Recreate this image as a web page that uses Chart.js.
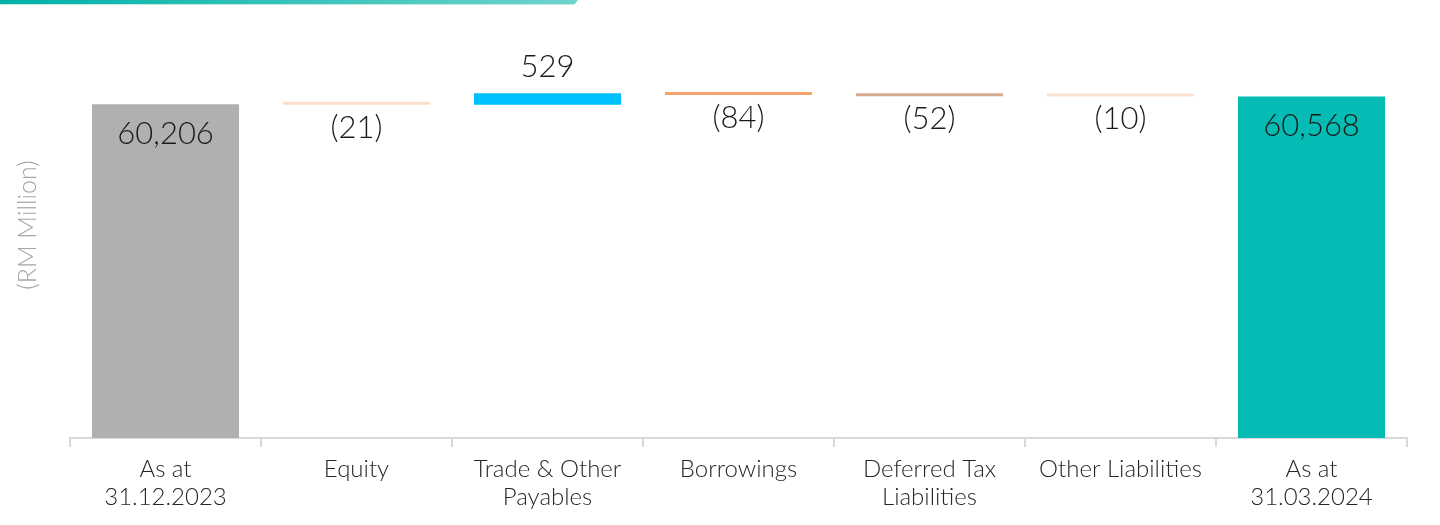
<!DOCTYPE html>
<html>
<head>
<meta charset="utf-8">
<script src="https://cdn.jsdelivr.net/npm/chart.js@4.4.1/dist/chart.umd.min.js"></script>
<style>
  html, body { margin: 0; padding: 0; background: #fff; }
  #wrap { position: relative; width: 1440px; height: 525px; }
  #banner {
    position: absolute; left: 0; top: 0; width: 578px; height: 4px;
    background: linear-gradient(90deg, #00b1a8, #6fd4cc);
    border-bottom: 1px solid #bfe9e5;
    clip-path: polygon(0 0, 100% 0, 99.3% 100%, 0 100%);
  }
</style>
</head>
<body>
<div id="wrap">
  <div id="banner"></div>
  <canvas id="myChart" width="1440" height="525"></canvas>
</div>
<script>
// categorias y valores
var categorias = [['As at', '31.12.2023'], 'Equity', ['Trade & Other', 'Payables'], 'Borrowings', ['Deferred Tax', 'Liabilities'], 'Other Liabilities', ['As at', '31.03.2024']];
var valores = [60206, -21, 529, -84, -52, -10, 60568];
var esTotal = [true, false, false, false, false, false, true];
var etiquetas = ['60,206', '(21)', '529', '(84)', '(52)', '(10)', '60,568'];
var colores = ['#b0b0b0', '#fcdcc6', '#00bfff', '#f7a26a', '#d5aa90', '#fde2d0', '#05bcb4'];

var ejeMin = 45000;
var ejeMax = 63000;

// barras flotantes de la cascada
var datosCascada = [];
var acumulado = 0;
for (var i = 0; i < valores.length; i++) {
    if (esTotal[i]) {
        datosCascada.push([ejeMin, valores[i]]);
        acumulado = valores[i];
    } else {
        datosCascada.push([acumulado, acumulado + valores[i]]);
        acumulado = acumulado + valores[i];
    }
}

const fuente = 'Lato, "Open Sans", sans-serif';

const pluginEtiquetas = {
    id: 'pluginEtiquetas',
    afterDatasetsDraw(chart) {
        const ctx = chart.ctx;
        const meta = chart.getDatasetMeta(0);
        ctx.save();
        ctx.font = '300 31px ' + fuente;
        ctx.fillStyle = '#1a1a1a';
        ctx.textAlign = 'center';
        ctx.textBaseline = 'middle';
        meta.data.forEach(function (barra, i) {
            var arriba = Math.min(barra.y, barra.base);
            var abajo = Math.max(barra.y, barra.base);
            if (esTotal[i]) {
                ctx.fillText(etiquetas[i], barra.x, arriba + 30);
            } else if (valores[i] > 0) {
                ctx.fillText(etiquetas[i], barra.x, arriba - 26);
            } else {
                ctx.fillText(etiquetas[i], barra.x, abajo + 23);
            }
        });
        // titulo del eje
        ctx.font = '300 25px ' + fuente;
        ctx.fillStyle = '#a6a6a6';
        ctx.translate(28, 225);
        ctx.rotate(-Math.PI / 2);
        ctx.fillText('(RM Million)', 0, 0);
        ctx.restore();
    }
};

const ctx = document.getElementById('myChart').getContext('2d');
const chart = new Chart(ctx, {
    type: 'bar',
    data: {
        labels: categorias,
        datasets: [{
            data: datosCascada,
            backgroundColor: colores,
            borderWidth: 0,
            borderSkipped: false,
            minBarLength: 3,
            categoryPercentage: 1,
            barPercentage: 0.77
        }]
    },
    options: {
        responsive: false,
        animation: false,
        layout: {
            padding: { left: 70, right: 33, top: 43, bottom: 6 }
        },
        plugins: {
            legend: { display: false },
            tooltip: { enabled: false }
        },
        scales: {
            y: {
                display: false,
                min: ejeMin,
                max: ejeMax
            },
            x: {
                border: { display: true, color: '#d9d9d9', width: 2 },
                grid: {
                    display: true,
                    drawOnChartArea: false,
                    drawTicks: true,
                    tickLength: 9,
                    color: '#d9d9d9',
                    lineWidth: 2
                },
                ticks: {
                    color: '#262626',
                    padding: 8,
                    maxRotation: 0,
                    font: { family: fuente, size: 24, weight: '300', lineHeight: 1.165 }
                }
            }
        }
    },
    plugins: [pluginEtiquetas]
});
</script>
</body>
</html>
